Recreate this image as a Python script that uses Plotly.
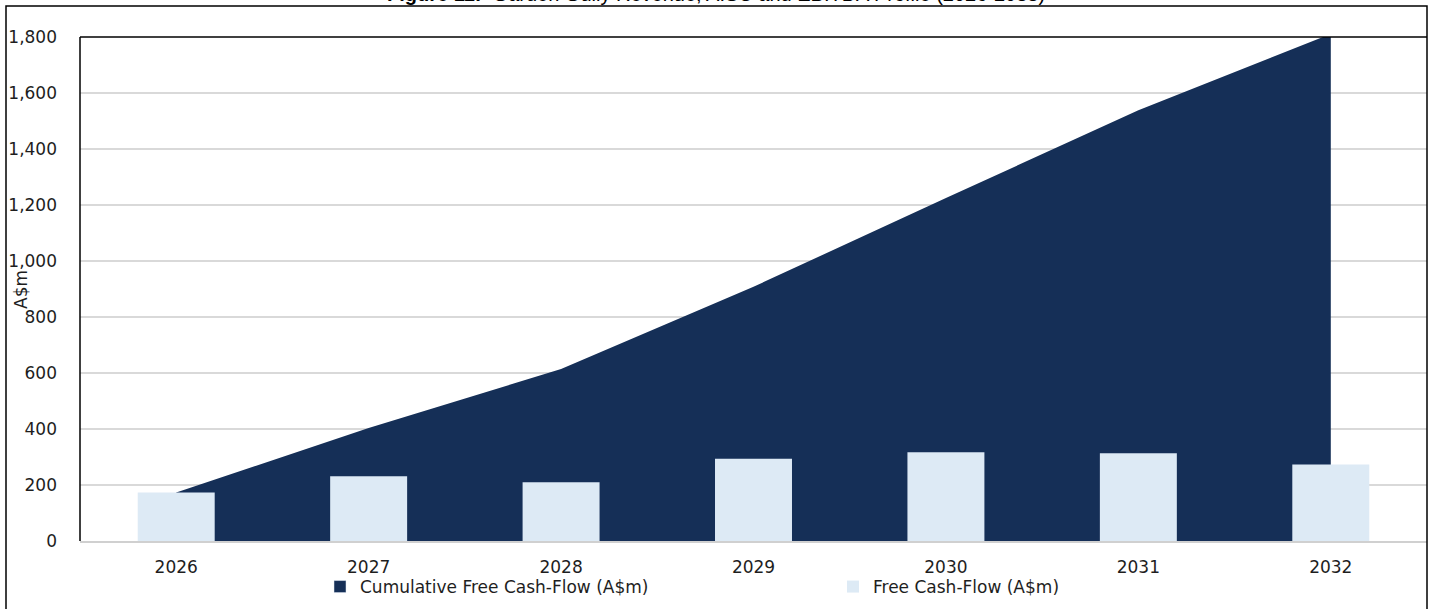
import plotly.graph_objects as go

years = ["2026", "2027", "2028", "2029", "2030", "2031", "2032"]
free_cash_flow = [173, 231, 210, 294, 317, 313, 273]
cumulative_fcf = [173, 404, 614, 908, 1225, 1538, 1811]
y_ticks = [0, 200, 400, 600, 800, 1000, 1200, 1400, 1600, 1800]

NAVY = "#152F57"
PALE = "#DDEAF5"
FONT = "DejaVu Sans"
TEXT = "#1E1E1E"

W, H = 1436, 609
ML, MR, MT, MB = 80, 9, 37, 68
PW, PH = W - ML - MR, H - MT - MB


def px_x(x):
    return (x - ML) / PW


def px_y(y):
    return (H - MB - y) / PH


fig = go.Figure()

# cumulative area on the base axes (drawn underneath)
fig.add_trace(go.Scatter(
    x=years, y=cumulative_fcf, name="Cumulative Free Cash-Flow (A$m)",
    mode="none", fill="tozeroy", fillcolor=NAVY, showlegend=False,
    xaxis="x", yaxis="y",
))
# legend swatches as squares
fig.add_trace(go.Bar(
    x=[None], y=[None], name="Cumulative Free Cash-Flow (A$m)",
    marker=dict(color=NAVY), xaxis="x2", yaxis="y2",
))
# yearly free cash flow bars on overlaid axes so they sit above the area
fig.add_trace(go.Bar(
    x=years, y=free_cash_flow, name="Free Cash-Flow (A$m)",
    marker=dict(color=PALE, line=dict(width=0)), width=0.4,
    xaxis="x2", yaxis="y2",
))

shapes = [
    # outer frame
    dict(type="rect", xref="paper", yref="paper",
         x0=px_x(6), x1=px_x(1427), y0=px_y(620), y1=px_y(6),
         line=dict(color="black", width=1.5), fillcolor="rgba(0,0,0,0)", layer="above"),
    # plot frame: top and left in black
    dict(type="line", xref="paper", yref="paper", x0=0, x1=1, y0=1, y1=1,
         line=dict(color="black", width=1.5), layer="above"),
    dict(type="line", xref="paper", yref="paper", x0=0, x1=0, y0=0, y1=1,
         line=dict(color="black", width=1.5), layer="above"),
]

axis_common = dict(automargin=False)

fig.update_layout(
    width=W, height=H,
    margin=dict(l=ML, r=MR, t=MT, b=MB, autoexpand=False),
    paper_bgcolor="white", plot_bgcolor="white",
    font=dict(family=FONT, size=17, color=TEXT),
    showlegend=True,
    legend=dict(orientation="h", x=px_x(320), xanchor="left", y=px_y(569), yanchor="top",
                font=dict(size=17, color=TEXT), itemwidth=30, tracegroupgap=0,
                entrywidth=468, entrywidthmode="pixels", traceorder="normal",
                bgcolor="rgba(0,0,0,0)"),
    barmode="overlay",
    xaxis=dict(type="category", categoryorder="array", categoryarray=years,
               range=[-0.5, 6.5], showgrid=False, showline=True, linecolor="#D0D0D0",
               linewidth=2, ticks="", ticklabelstandoff=10, tickfont=dict(size=17),
               **axis_common),
    yaxis=dict(range=[0, 1800], tickvals=y_ticks, tickformat=",", showgrid=True,
               gridcolor="#D9D9D9", gridwidth=1.5, zeroline=False, showline=False,
               ticks="", ticklabelstandoff=22, tickfont=dict(size=17), **axis_common),
    xaxis2=dict(type="category", categoryorder="array", categoryarray=years,
                range=[-0.5, 6.5], overlaying="x", visible=False, **axis_common),
    yaxis2=dict(range=[0, 1800], overlaying="y", visible=False, **axis_common),
    shapes=shapes,
    annotations=[
        dict(text="<b>Figure 11:</b>  Garden Gully Revenue, AISC and EBITDA Profile (2026-2033)",
             xref="paper", yref="paper", x=px_x(716), y=px_y(7), xanchor="center",
             yanchor="bottom", showarrow=False,
             font=dict(family="Liberation Sans", size=20, color="black")),
        dict(text="A$m", textangle=-90, xref="paper", yref="paper",
             x=px_x(21), y=px_y(290), xanchor="center", yanchor="middle",
             showarrow=False, font=dict(size=17, color=TEXT)),
    ],
)

fig.write_html("out.html")
